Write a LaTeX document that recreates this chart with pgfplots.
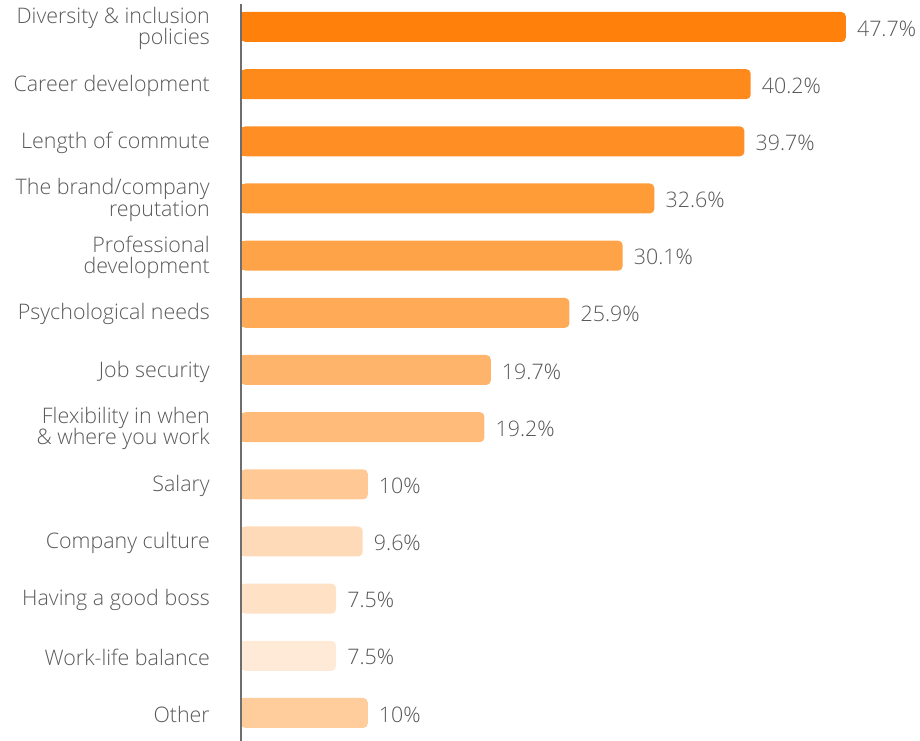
\documentclass[border=0pt]{standalone}
\usepackage{pgfplots}
\pgfplotsset{compat=1.18}
\usepackage{fontspec}
\setmainfont{Open Sans Light}
\definecolor{txt}{RGB}{89,89,89}
\definecolor{axl}{RGB}{110,110,110}
\definecolor{c1}{RGB}{255,128,10}
\definecolor{c2}{RGB}{255,138,28}
\definecolor{c3}{RGB}{255,143,36}
\definecolor{c4}{RGB}{255,156,56}
\definecolor{c5}{RGB}{255,163,72}
\definecolor{c6}{RGB}{255,170,86}
\definecolor{c7}{RGB}{255,180,108}
\definecolor{c8}{RGB}{255,187,122}
\definecolor{c9}{RGB}{255,200,148}
\definecolor{c10}{RGB}{255,218,184}
\definecolor{c11}{RGB}{255,225,198}
\definecolor{c12}{RGB}{255,234,216}
\definecolor{c13}{RGB}{255,204,155}
\newcommand\lblfont{\fontsize{21.5}{21.5}\selectfont}
\newcommand\barrow[3]{%
  \addplot[xbar, bar width=30bp, bar shift=0pt, draw=none, fill=#3, rounded corners=4.5bp,
    point meta=x, nodes near coords={\pgfmathprintnumber{\pgfplotspointmeta}\%},
    every node near coord/.append style={font=\lblfont, text=txt, inner sep=0pt, xshift=11bp, yshift=-1.5bp, anchor=west}]
    coordinates {(#1,#2)};
  \addplot[xbar, bar width=29bp, bar shift=0pt, draw=none, fill=#3] coordinates {(3,#2)};
}
\begin{document}
\begin{tikzpicture}
\begin{axis}[
  scale only axis,
  width=679bp, height=741bp,
  xmin=0, xmax=53.55,
  ymin=-0.472, ymax=12.49,
  y dir=reverse,
  clip=false,
  axis line style={draw=none},
  xtick=\empty,
  ytick={0,...,12},
  major tick length=0pt,
  yticklabels={{Diversity \& inclusion\\policies},{Career development},{Length of commute},{The brand/company\\reputation},{Professional\\development},{Psychological needs},{Job security},{Flexibility in when\\\& where you work},{Salary},{Company culture},{Having a good boss},{Work-life balance},{Other}},
  yticklabel style={align=right, font=\lblfont, text=txt, inner sep=0pt, xshift=-31bp, yshift=-1.5bp},
  /pgf/number format/assume math mode=true,
]
\barrow{47.7}{0}{c1}
\barrow{40.2}{1}{c2}
\barrow{39.7}{2}{c3}
\barrow{32.6}{3}{c4}
\barrow{30.1}{4}{c5}
\barrow{25.9}{5}{c6}
\barrow{19.7}{6}{c7}
\barrow{19.2}{7}{c8}
\barrow{10}{8}{c9}
\barrow{9.6}{9}{c10}
\barrow{7.5}{10}{c11}
\barrow{7.5}{11}{c12}
\barrow{10}{12}{c13}
\draw[axl, line width=1.2bp] (axis cs:0,-0.40) -- (axis cs:0,12.49);
\end{axis}
\pgfresetboundingbox
\path[use as bounding box] (current axis.south west) ++(-241bp,0) rectangle (current axis.north east);
\end{tikzpicture}
\end{document}
